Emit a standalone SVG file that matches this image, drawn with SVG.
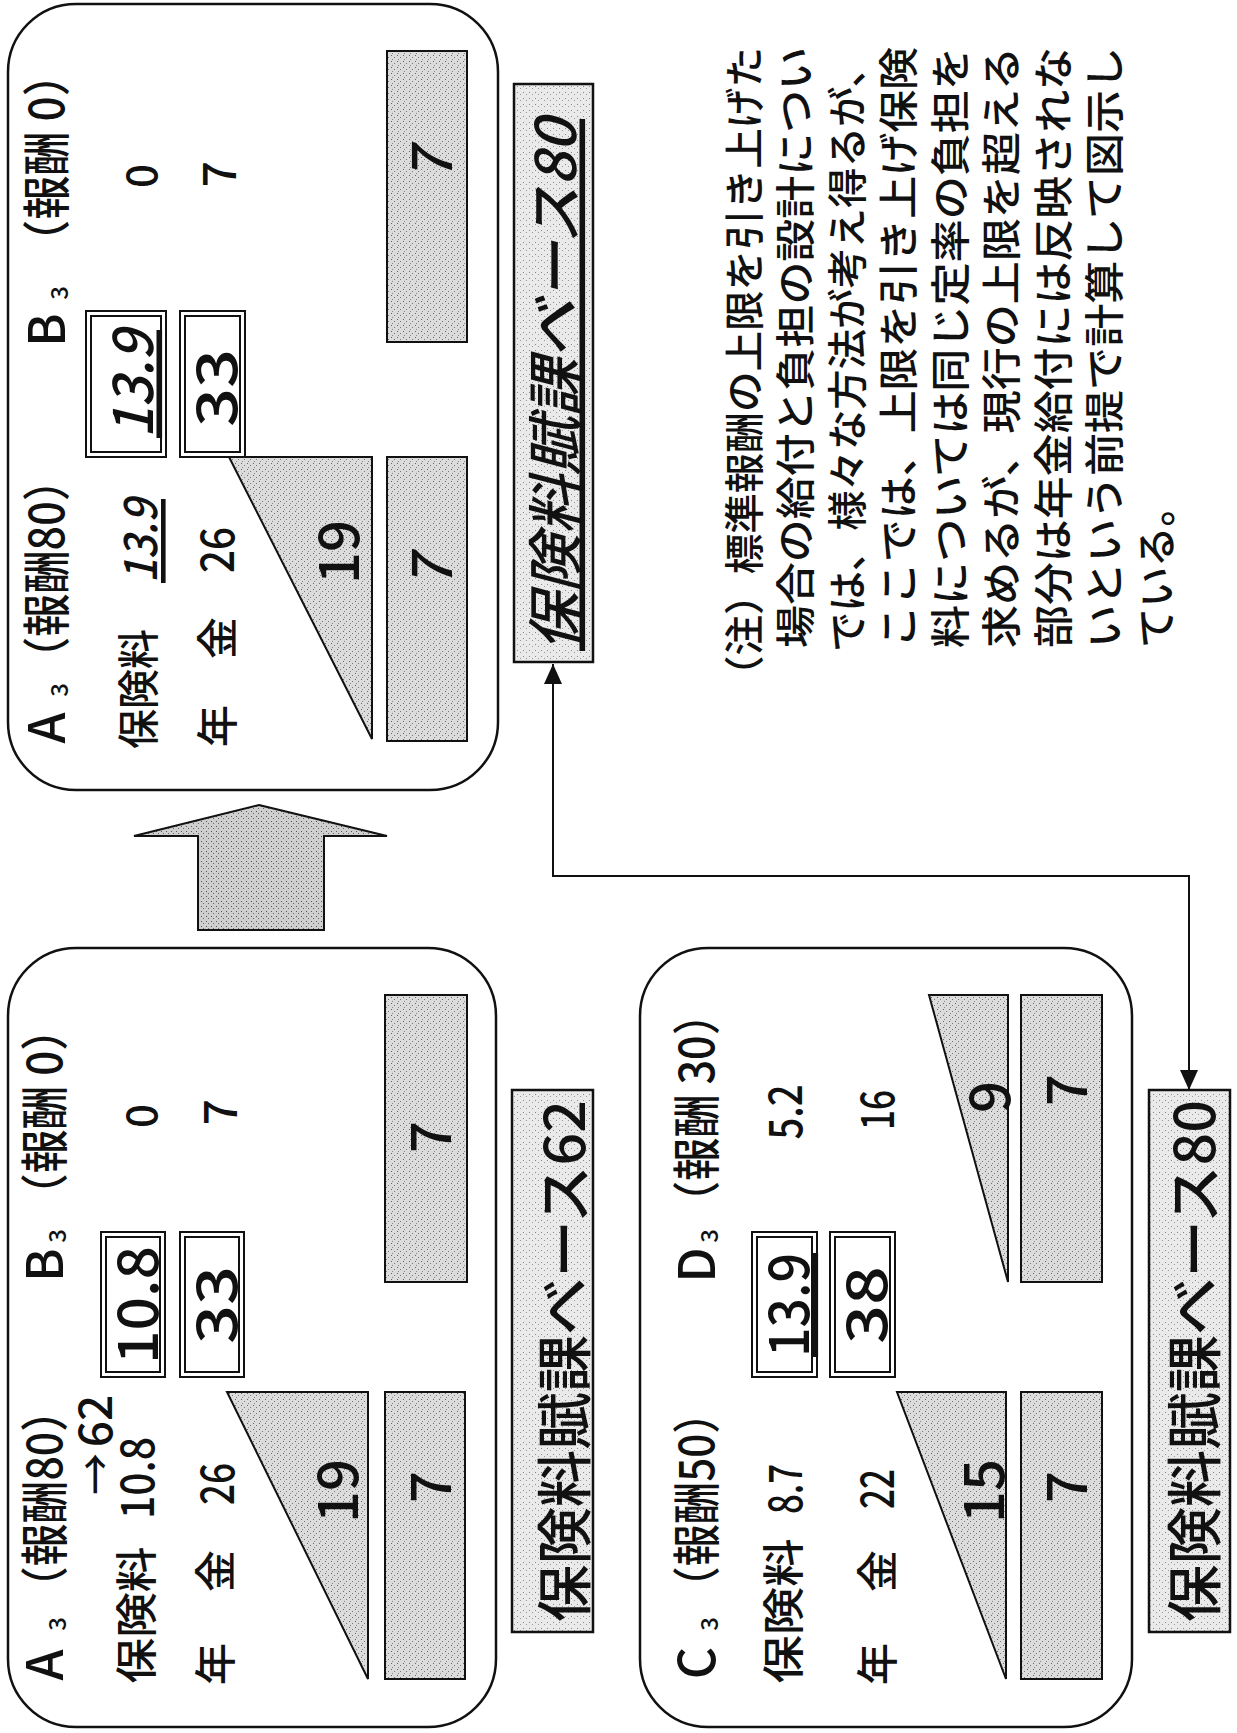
<svg xmlns="http://www.w3.org/2000/svg" width="1237" height="1733" viewBox="0 0 1237 1733">
<style>
text{font-family:"Noto Sans CJK JP","Noto Sans",sans-serif;fill:#111;dominant-baseline:central;text-anchor:middle;font-weight:500}
.box{fill:#fff;stroke:#111;stroke-width:2.5}
.sh{fill:url(#stip);stroke:#111;stroke-width:2}
.lb{fill:url(#stipL);stroke:#111;stroke-width:2.5}
.dbl{fill:#fff;stroke:#111;stroke-width:2}
.h{font-size:48px}
.cap{font-size:50px}
.sub{font-size:24px}
.t{font-size:42px}
.n{font-size:46px}
.big{font-size:56px}
.note{font-size:40px;text-anchor:start}
.it{font-style:italic}
.con{fill:none;stroke:#111;stroke-width:2}
</style>
<defs>
<pattern id="stip" width="6" height="6" patternUnits="userSpaceOnUse">
<rect width="6" height="6" fill="#dcdcdc"/>
<rect x="1" y="1" width="1" height="1" fill="#666"/>
<rect x="4" y="3" width="1" height="1" fill="#777"/>
<rect x="2" y="5" width="1" height="1" fill="#888"/>
</pattern>
<pattern id="stipL" width="6" height="6" patternUnits="userSpaceOnUse">
<rect width="6" height="6" fill="#eaeaea"/>
<rect x="1" y="2" width="1" height="1" fill="#888"/>
<rect x="4" y="4" width="1" height="1" fill="#999"/>
</pattern>
<pattern id="stipD" width="5" height="5" patternUnits="userSpaceOnUse">
<rect width="5" height="5" fill="#cfcfcf"/>
<rect x="1" y="1" width="1" height="1" fill="#555"/>
<rect x="3" y="3" width="1" height="1" fill="#666"/>
</pattern>
<marker id="ah" viewBox="0 0 20 18" refX="20" refY="9" markerWidth="20" markerHeight="18" markerUnits="userSpaceOnUse" orient="auto-start-reverse">
<path d="M0,0 L20,9 L0,18 Z" fill="#111"/>
</marker>
</defs>
<rect width="1237" height="1733" fill="#fff"/>

<!-- Box A3/B3 base 80 (top) -->
<g id="box-a3b3-80">
<rect class="box" x="8" y="4" width="490" height="786" rx="68" ry="68"/>
<text class="cap" x="43" y="728" transform="rotate(-90 43 728)">A</text>
<text class="sub" x="57" y="690" transform="rotate(-90 57 690)">3</text>
<text class="h" x="43" y="569" transform="rotate(-90 43 569)" textLength="222" lengthAdjust="spacingAndGlyphs">（報酬80）</text>
<text class="cap" x="43" y="330" transform="rotate(-90 43 330)">B</text>
<text class="sub" x="57" y="293" transform="rotate(-90 57 293)">3</text>
<text class="h" x="43" y="158" transform="rotate(-90 43 158)" textLength="212" lengthAdjust="spacingAndGlyphs">（報酬 0）</text>
<text class="t" x="135" y="689" transform="rotate(-90 135 689)" textLength="120" lengthAdjust="spacingAndGlyphs">保険料</text>
<text class="n it" x="137" y="541" transform="rotate(-90 137 541)" textLength="84" lengthAdjust="spacingAndGlyphs" text-decoration="underline">13.9</text>
<rect class="dbl" x="86" y="311" width="80" height="146"/>
<rect class="dbl" x="91" y="316" width="70" height="136"/>
<text class="big it" x="128" y="384" transform="rotate(-90 128 384)" textLength="108" lengthAdjust="spacingAndGlyphs" text-decoration="underline">13.9</text>
<text class="t" x="138" y="176" transform="rotate(-90 138 176)">0</text>
<text class="t" x="214" y="726" transform="rotate(-90 214 726)">年</text>
<text class="t" x="214" y="638" transform="rotate(-90 214 638)">金</text>
<text class="n" x="214" y="550" transform="rotate(-90 214 550)" textLength="46" lengthAdjust="spacingAndGlyphs">26</text>
<rect class="dbl" x="180" y="311" width="65" height="146"/>
<rect class="dbl" x="185" y="316" width="55" height="136"/>
<text class="big" x="212" y="388" transform="rotate(-90 212 388)" textLength="78" lengthAdjust="spacingAndGlyphs">33</text>
<text class="n" x="216" y="174" transform="rotate(-90 216 174)">7</text>
<polygon class="sh" points="229,457 372,457 372,739"/>
<text class="big" x="334" y="552" transform="rotate(-90 334 552)">19</text>
<rect class="sh" x="387" y="457" width="80" height="284"/>
<text class="big it" x="427" y="572" transform="rotate(-90 427 572)">7</text>
<rect class="sh" x="387" y="51" width="80" height="291"/>
<text class="big it" x="427" y="165" transform="rotate(-90 427 165)">7</text>
</g>

<g id="label-base80-top">
<rect class="lb" x="514" y="84" width="79" height="578"/>
<text class="big it" x="551" y="385" transform="rotate(-90 551 385)" textLength="532" lengthAdjust="spacingAndGlyphs" text-decoration="underline">保険料賦課ベース80</text>
</g>

<!-- Box A3/B3 base 62 (bottom-left) -->
<g id="box-a3b3-62">
<rect class="box" x="8" y="948" width="488" height="779" rx="68" ry="68"/>
<text class="cap" x="41" y="1665" transform="rotate(-90 41 1665)">A</text>
<text class="sub" x="55" y="1624" transform="rotate(-90 55 1624)">3</text>
<text class="h" x="41" y="1499" transform="rotate(-90 41 1499)" textLength="220" lengthAdjust="spacingAndGlyphs">（報酬80）</text>
<text class="cap" x="41" y="1265" transform="rotate(-90 41 1265)">B</text>
<text class="sub" x="55" y="1236" transform="rotate(-90 55 1236)">3</text>
<text class="h" x="41" y="1112" transform="rotate(-90 41 1112)" textLength="210" lengthAdjust="spacingAndGlyphs">（報酬 0）</text>
<text class="t" x="92" y="1474" transform="rotate(-90 92 1474)">→</text>
<text class="n" x="92" y="1421" transform="rotate(-90 92 1421)">62</text>
<text class="t" x="133" y="1615" transform="rotate(-90 133 1615)" textLength="137" lengthAdjust="spacingAndGlyphs">保険料</text>
<text class="n" x="134" y="1478" transform="rotate(-90 134 1478)" textLength="82" lengthAdjust="spacingAndGlyphs">10.8</text>
<rect class="dbl" x="101" y="1232" width="64" height="145"/>
<rect class="dbl" x="106" y="1237" width="54" height="135"/>
<text class="big" x="133" y="1305" transform="rotate(-90 133 1305)" textLength="118" lengthAdjust="spacingAndGlyphs">10.8</text>
<text class="t" x="138" y="1116" transform="rotate(-90 138 1116)">0</text>
<text class="t" x="212" y="1664" transform="rotate(-90 212 1664)">年</text>
<text class="t" x="212" y="1571" transform="rotate(-90 212 1571)">金</text>
<text class="n" x="214" y="1484" transform="rotate(-90 214 1484)" textLength="42" lengthAdjust="spacingAndGlyphs">26</text>
<rect class="dbl" x="180" y="1232" width="64" height="145"/>
<rect class="dbl" x="185" y="1237" width="54" height="135"/>
<text class="big" x="212" y="1305" transform="rotate(-90 212 1305)" textLength="78" lengthAdjust="spacingAndGlyphs">33</text>
<text class="n" x="217" y="1112" transform="rotate(-90 217 1112)">7</text>
<polygon class="sh" points="227,1392 368,1392 368,1679"/>
<text class="big" x="333" y="1491" transform="rotate(-90 333 1491)">19</text>
<rect class="sh" x="385" y="1392" width="80" height="287"/>
<text class="big" x="426" y="1487" transform="rotate(-90 426 1487)">7</text>
<rect class="sh" x="385" y="995" width="82" height="287"/>
<text class="big" x="426" y="1137" transform="rotate(-90 426 1137)">7</text>
</g>

<g id="label-base62">
<rect class="lb" x="512" y="1090" width="81" height="542"/>
<text class="big" x="560" y="1361" transform="rotate(-90 560 1361)" textLength="522" lengthAdjust="spacingAndGlyphs">保険料賦課ベース62</text>
</g>

<!-- Box C3/D3 -->
<g id="box-c3d3">
<rect class="box" x="640" y="948" width="492" height="779" rx="68" ry="68"/>
<text class="cap" x="693" y="1663" transform="rotate(-90 693 1663)">C</text>
<text class="sub" x="707" y="1624" transform="rotate(-90 707 1624)">3</text>
<text class="h" x="693" y="1500" transform="rotate(-90 693 1500)" textLength="217" lengthAdjust="spacingAndGlyphs">（報酬50）</text>
<text class="cap" x="693" y="1265" transform="rotate(-90 693 1265)">D</text>
<text class="sub" x="707" y="1236" transform="rotate(-90 707 1236)">3</text>
<text class="h" x="693" y="1108" transform="rotate(-90 693 1108)" textLength="232" lengthAdjust="spacingAndGlyphs">（報酬 30）</text>
<text class="t" x="780" y="1611" transform="rotate(-90 780 1611)" textLength="145" lengthAdjust="spacingAndGlyphs">保険料</text>
<text class="n" x="782" y="1489" transform="rotate(-90 782 1489)" textLength="50" lengthAdjust="spacingAndGlyphs">8.7</text>
<rect class="dbl" x="752" y="1232" width="65" height="145"/>
<rect class="dbl" x="757" y="1237" width="55" height="135"/>
<text class="big" x="784" y="1305" transform="rotate(-90 784 1305)" textLength="104" lengthAdjust="spacingAndGlyphs" text-decoration="underline">13.9</text>
<text class="n" x="782" y="1112" transform="rotate(-90 782 1112)" textLength="55" lengthAdjust="spacingAndGlyphs">5.2</text>
<text class="t" x="874" y="1664" transform="rotate(-90 874 1664)">年</text>
<text class="t" x="874" y="1571" transform="rotate(-90 874 1571)">金</text>
<text class="n" x="874" y="1489" transform="rotate(-90 874 1489)" textLength="40" lengthAdjust="spacingAndGlyphs">22</text>
<rect class="dbl" x="830" y="1232" width="65" height="145"/>
<rect class="dbl" x="835" y="1237" width="55" height="135"/>
<text class="big" x="862" y="1305" transform="rotate(-90 862 1305)" textLength="78" lengthAdjust="spacingAndGlyphs">38</text>
<text class="n" x="874" y="1110" transform="rotate(-90 874 1110)" textLength="40" lengthAdjust="spacingAndGlyphs">16</text>
<polygon class="sh" points="897,1392 1006,1392 1006,1679"/>
<text class="big" x="979" y="1491" transform="rotate(-90 979 1491)">15</text>
<polygon class="sh" points="929,995 1008,995 1008,1282"/>
<text class="big" x="985" y="1097" transform="rotate(-90 985 1097)">9</text>
<rect class="sh" x="1021" y="1392" width="81" height="287"/>
<text class="big" x="1062" y="1487" transform="rotate(-90 1062 1487)">7</text>
<rect class="sh" x="1021" y="995" width="81" height="287"/>
<text class="big" x="1062" y="1090" transform="rotate(-90 1062 1090)">7</text>
</g>

<g id="label-base80-bottom">
<rect class="lb" x="1149" y="1090" width="81" height="542"/>
<text class="big" x="1190" y="1361" transform="rotate(-90 1190 1361)" textLength="522" lengthAdjust="spacingAndGlyphs">保険料賦課ベース80</text>
</g>

<g id="big-arrow">
<polygon points="259,805 387,836 324,836 324,930 198,930 198,836 134,836" fill="url(#stipD)" stroke="#111" stroke-width="2"/>
</g>

<g id="connectors">
<path class="con" d="M553,664 V876 H1189 V1090" marker-start="url(#ah)" marker-end="url(#ah)"/>
</g>

<g id="note">
<text class="note" x="742" y="696" transform="rotate(-90 742 696)" textLength="649" lengthAdjust="spacingAndGlyphs">（注）標準報酬の上限を引き上げた</text>
<text class="note" x="793" y="648" transform="rotate(-90 793 648)" textLength="601" lengthAdjust="spacingAndGlyphs">場合の給付と負担の設計につい</text>
<text class="note" x="845" y="652" transform="rotate(-90 845 652)" textLength="605" lengthAdjust="spacingAndGlyphs">では、様々な方法が考え得るが、</text>
<text class="note" x="896" y="648" transform="rotate(-90 896 648)" textLength="601" lengthAdjust="spacingAndGlyphs">ここでは、上限を引き上げ保険</text>
<text class="note" x="948" y="648" transform="rotate(-90 948 648)" textLength="601" lengthAdjust="spacingAndGlyphs">料については同じ定率の負担を</text>
<text class="note" x="999" y="648" transform="rotate(-90 999 648)" textLength="601" lengthAdjust="spacingAndGlyphs">求めるが、現行の上限を超える</text>
<text class="note" x="1051" y="648" transform="rotate(-90 1051 648)" textLength="601" lengthAdjust="spacingAndGlyphs">部分は年金給付には反映されな</text>
<text class="note" x="1102" y="648" transform="rotate(-90 1102 648)" textLength="601" lengthAdjust="spacingAndGlyphs">いという前提で計算して図示し</text>
<text class="note" x="1154" y="648" transform="rotate(-90 1154 648)" textLength="162" lengthAdjust="spacingAndGlyphs">ている。</text>
</g>
</svg>
